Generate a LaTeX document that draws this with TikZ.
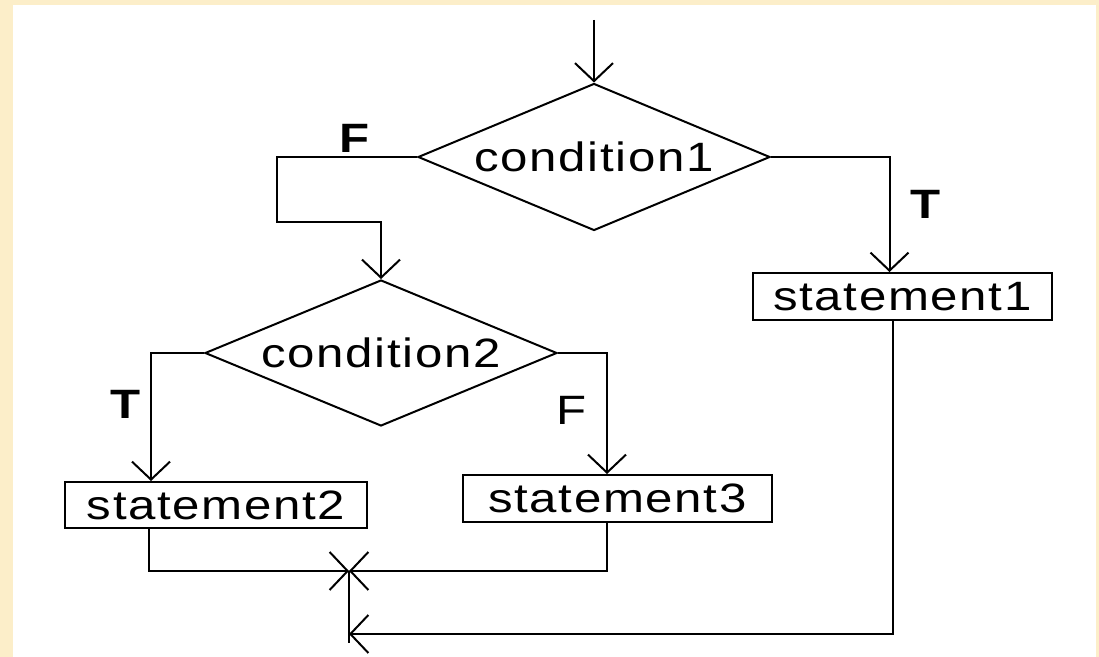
\documentclass[tikz,border=0pt]{standalone}
\usepackage{fontspec}
\setmainfont{Liberation Sans}[LetterSpace=4,FakeStretch=1.2]
\usetikzlibrary{shapes.geometric,arrows.meta,calc}
\definecolor{pagebeige}{RGB}{252,238,201}
\begin{document}
\begin{tikzpicture}[x=0.5pt,y=-0.5pt,
  flow/.style={line width=1pt},
  arr/.style={flow,-{Straight Barb[length=9pt,width=19pt]}},
  txt/.style={font=\fontsize{20.5}{24}\selectfont},
  stmt/.style={draw,line width=1pt,inner sep=0pt,txt},
  cond/.style={draw,diamond,line width=1pt,inner sep=0pt,aspect=2.4,txt},
  lbl/.style={txt},
  blbl/.style={font=\fontsize{20.5}{24}\selectfont\bfseries}
]
% page frame
\useasboundingbox (0,0) rectangle (1099,657);
\fill[pagebeige] (0,0) rectangle (1099,657);
\fill[white] (13,5) rectangle (1096,657);

% decisions
\node[cond,minimum width=176pt,minimum height=73.5pt] (d1) at (594,157) {condition1};
\node[cond,minimum width=176pt,minimum height=73pt] (d2) at (381,353) {condition2};

% statements
\node[stmt,minimum width=149.5pt,minimum height=23.5pt] (s1) at (902.5,296.5) {statement1};
\node[stmt,minimum width=151pt,minimum height=23pt] (s2) at (216,505) {statement2};
\node[stmt,minimum width=154.5pt,minimum height=23.5pt] (s3) at (617.5,498.5) {statement3};

% branch labels
\node[blbl] (lf1) at (355,138) {F};
\node[blbl] (lt1) at (926,204) {T};
\node[blbl] (lt2) at (126,404) {T};
\node[lbl] (lf2) at (572,410) {F};

% helper points
\coordinate (start) at (594,20);
\coordinate (k1) at (277,222);
\coordinate (j) at (349,571);
\coordinate (jin) at (349,634);
\coordinate (jend) at (349,643);

% connectors
\draw[arr] (start) -- (d1.north);
\draw[arr] (d1.west) -| (k1) -| (d2.north);
\draw[arr] (d1.east) -| ($(s1.north)+(-13,0)$);
\draw[arr] (d2.west) -| ($(s2.north west)+(87,0)$);
\draw[arr] (d2.east) -| ($(s3.north west)+(145,0)$);
\draw[arr] ($(s2.south west)+(85,0)$) |- (j);
\draw[arr] ($(s3.south west)+(145,0)$) |- (j);
\draw[flow] (j) -- (jend);
\draw[arr] ($(s1.south)+(-10,0)$) |- (jin);
\end{tikzpicture}
\end{document}
